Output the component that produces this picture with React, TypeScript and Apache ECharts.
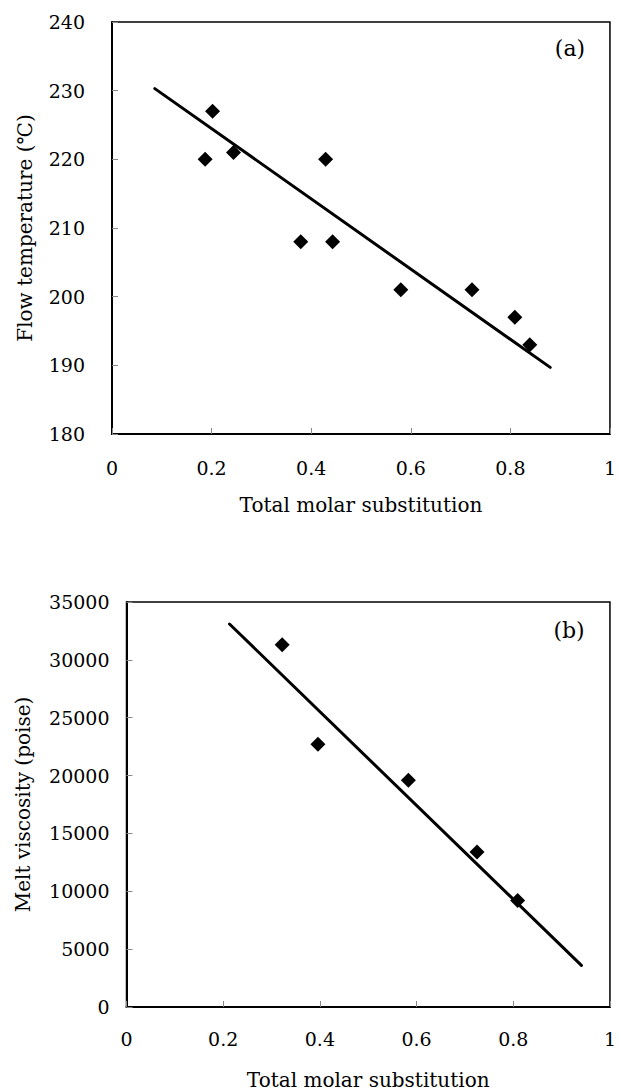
import React, { useEffect, useRef } from "react";
import * as echarts from "echarts";

// Panel (a): flow temperature vs total molar substitution
const xA = [0.187, 0.202, 0.244, 0.379, 0.429, 0.443, 0.58, 0.723, 0.809, 0.839];
const yA = [220, 227, 221, 208, 220, 208, 201, 201, 197, 193];
const fitAx = [0.086, 0.88];
const fitAy = [230.3, 189.7];

// Panel (b): melt viscosity vs total molar substitution
const xB = [0.322, 0.396, 0.583, 0.725, 0.809];
const yB = [31300, 22700, 19600, 13400, 9200];
const fitBx = [0.213, 0.941];
const fitBy = [33100, 3600];

const xTitle = "Total molar substitution";
const yTitleA = "Flow temperature (℃)";
const yTitleB = "Melt viscosity (poise)";
const panelLabels = ["(a)", "(b)"];

const FONT = "DejaVu Serif";

export default function App() {
  const ref = useRef<HTMLDivElement>(null);
  useEffect(() => {
    document.body.style.margin = "0";
    const chart = echarts.init(ref.current!, undefined, { renderer: "svg" });
    const zip = (xs: number[], ys: number[]) => xs.map((x, i) => [x, ys[i]]);
    const tickStyle = { fontFamily: FONT, fontSize: 19, color: "#000" };
    const nameStyle = { fontFamily: FONT, fontSize: 20, color: "#000" };
    const axisLine = { show: true, lineStyle: { color: "#000", width: 2 } };
    const axisTick = { show: true, inside: true, length: 6, lineStyle: { color: "#888", width: 1 } };
    const xAxisCommon = {
      type: "value",
      min: 0,
      max: 1,
      interval: 0.2,
      splitLine: { show: false },
      axisLine,
      axisTick,
      name: xTitle,
      nameLocation: "middle",
      nameTextStyle: nameStyle,
    };
    const diamondStyle = { color: "#000", opacity: 1 };
    chart.setOption({
      animation: false,
      backgroundColor: "#fff",
      grid: [
        { left: 112, top: 22, width: 501, height: 412, show: true, borderColor: "#000", borderWidth: 1.5 },
        { left: 126.5, top: 602, width: 489, height: 406, show: true, borderColor: "#000", borderWidth: 1.5 },
      ],
      xAxis: [
        { ...xAxisCommon, gridIndex: 0, nameGap: 61, axisLabel: { ...tickStyle, margin: 24 } },
        { ...xAxisCommon, gridIndex: 1, nameGap: 63, axisLabel: { ...tickStyle, margin: 22 } },
      ],
      yAxis: [
        {
          type: "value",
          gridIndex: 0,
          min: 180,
          max: 240,
          interval: 10,
          splitLine: { show: false },
          axisLine,
          axisTick,
          axisLabel: { ...tickStyle, margin: 27, formatter: (v: number) => String(v) },
          name: yTitleA,
          nameLocation: "middle",
          nameGap: 77,
          nameTextStyle: nameStyle,
        },
        {
          type: "value",
          gridIndex: 1,
          min: 0,
          max: 35000,
          interval: 5000,
          splitLine: { show: false },
          axisLine,
          axisTick,
          axisLabel: { ...tickStyle, margin: 17, formatter: (v: number) => String(v) },
          name: yTitleB,
          nameLocation: "middle",
          nameGap: 94,
          nameTextStyle: nameStyle,
        },
      ],
      series: [
        {
          type: "line",
          xAxisIndex: 0,
          yAxisIndex: 0,
          data: zip(fitAx, fitAy),
          symbol: "none",
          lineStyle: { color: "#000", width: 3, cap: "round" },
          z: 2,
        },
        {
          type: "scatter",
          xAxisIndex: 0,
          yAxisIndex: 0,
          data: zip(xA, yA),
          symbol: "diamond",
          symbolSize: 15,
          itemStyle: diamondStyle,
          z: 3,
        },
        {
          type: "line",
          xAxisIndex: 1,
          yAxisIndex: 1,
          data: zip(fitBx, fitBy),
          symbol: "none",
          lineStyle: { color: "#000", width: 3, cap: "round" },
          z: 2,
        },
        {
          type: "scatter",
          xAxisIndex: 1,
          yAxisIndex: 1,
          data: zip(xB, yB),
          symbol: "diamond",
          symbolSize: 15,
          itemStyle: diamondStyle,
          z: 3,
        },
      ],
      graphic: [
        {
          type: "text",
          x: 570,
          y: 48,
          style: { text: panelLabels[0], fontFamily: FONT, fontSize: 22, fill: "#000", align: "center", verticalAlign: "middle" },
        },
        {
          type: "text",
          x: 569,
          y: 630,
          style: { text: panelLabels[1], fontFamily: FONT, fontSize: 22, fill: "#000", align: "center", verticalAlign: "middle" },
        },
      ],
    });
    return () => chart.dispose();
  }, []);
  return <div ref={ref} style={{ width: 619, height: 1091 }} />;
}
